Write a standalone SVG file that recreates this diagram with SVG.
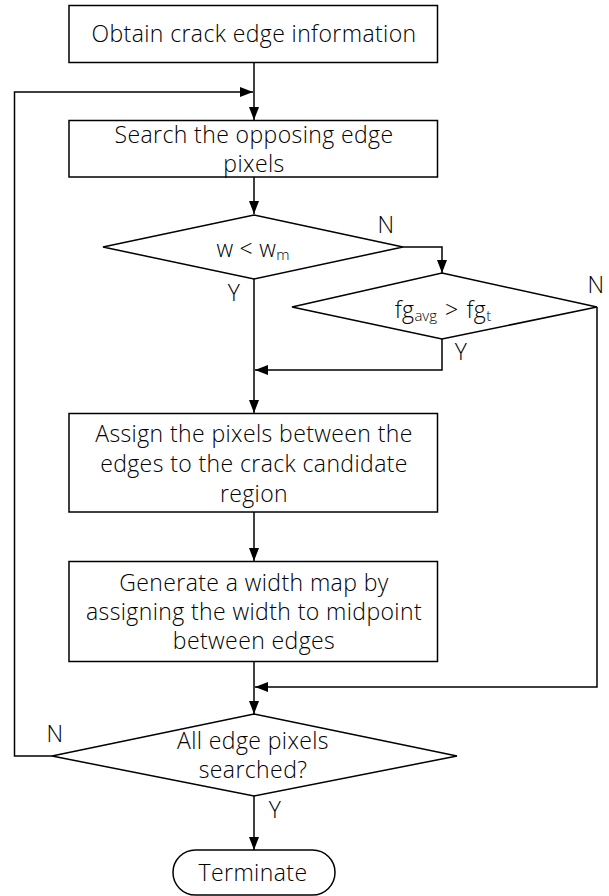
<svg xmlns="http://www.w3.org/2000/svg" width="609" height="896" viewBox="0 0 609 896">
<style>
.s{fill:#fff;stroke:#000;stroke-width:1.5}
.c{fill:none;stroke:#000;stroke-width:1.5}
text{font-family:"Open Sans","Noto Sans","Liberation Sans",sans-serif;font-size:23px;font-weight:350;letter-spacing:0.4px;fill:#000}
.m{text-anchor:middle}
.sub{font-size:15px;letter-spacing:0}
</style>
<defs>
<marker id="ah" markerWidth="13" markerHeight="10" refX="13" refY="5" orient="auto" markerUnits="userSpaceOnUse">
<path d="M0,0 L13,5 L0,10 Z" fill="#000"/>
</marker>
</defs>
<g id="connectors">
<line class="c" x1="254" y1="62" x2="254" y2="120" marker-end="url(#ah)"/>
<polyline class="c" points="52,756 14.5,756 14.5,92 253,92" marker-end="url(#ah)"/>
<line class="c" x1="254" y1="177" x2="254" y2="214" marker-end="url(#ah)"/>
<polyline class="c" points="403,247 442,247 442,273" marker-end="url(#ah)"/>
<line class="c" x1="254" y1="279" x2="254" y2="413" marker-end="url(#ah)"/>
<polyline class="c" points="442,339 442,370 255,370" marker-end="url(#ah)"/>
<line class="c" x1="254" y1="512" x2="254" y2="561" marker-end="url(#ah)"/>
<line class="c" x1="254" y1="662" x2="254" y2="714" marker-end="url(#ah)"/>
<polyline class="c" points="597,307 597,687 255,687" marker-end="url(#ah)"/>
<line class="c" x1="254" y1="796" x2="254" y2="850" marker-end="url(#ah)"/>
<text class="m" x="386" y="233">N</text>
<text class="m" x="234" y="301">Y</text>
<text class="m" x="596" y="293">N</text>
<text class="m" x="461" y="360">Y</text>
<text class="m" x="55" y="742">N</text>
<text class="m" x="275" y="818">Y</text>
</g>
<g id="n1">
<rect class="s" x="69" y="5.5" width="368.5" height="57"/>
<text class="m" x="254" y="42">Obtain crack edge information</text>
</g>
<g id="n2">
<rect class="s" x="69" y="120.5" width="368.5" height="56.5"/>
<text class="m" x="254" y="143">Search the opposing edge</text>
<text class="m" x="254" y="172">pixels</text>
</g>
<g id="d1">
<polygon class="s" points="254,215 403,247 254,279 103,247"/>
<text class="m" x="253" y="257">w<tspan dx="6">&lt;</tspan><tspan dx="6">w</tspan><tspan class="sub" dy="3">m</tspan></text>
</g>
<g id="d2">
<polygon class="s" points="442,273 597,307 442,339 292,307"/>
<text class="m" x="443" y="318">fg<tspan class="sub" dy="3">avg</tspan><tspan dx="8" dy="-3">&gt;</tspan><tspan dx="8">fg</tspan><tspan class="sub" dy="3">t</tspan></text>
</g>
<g id="n3">
<rect class="s" x="69" y="413.5" width="368.5" height="98.5"/>
<text class="m" x="254" y="441.5">Assign the pixels between the</text>
<text class="m" x="254" y="471.5">edges to the crack candidate</text>
<text class="m" x="254" y="501.5">region</text>
</g>
<g id="n4">
<rect class="s" x="69" y="561.5" width="368.5" height="100"/>
<text class="m" x="254" y="590.5">Generate a width map by</text>
<text class="m" x="254" y="620">assigning the width to midpoint</text>
<text class="m" x="254" y="649">between edges</text>
</g>
<g id="d3">
<polygon class="s" points="254,714 457,756 254,796 52,756"/>
<text class="m" x="253" y="749">All edge pixels</text>
<text class="m" x="253" y="778">searched?</text>
</g>
<g id="t">
<rect class="s" x="173" y="850" width="162" height="45" rx="22.5"/>
<text class="m" x="253" y="881">Terminate</text>
</g>
</svg>
